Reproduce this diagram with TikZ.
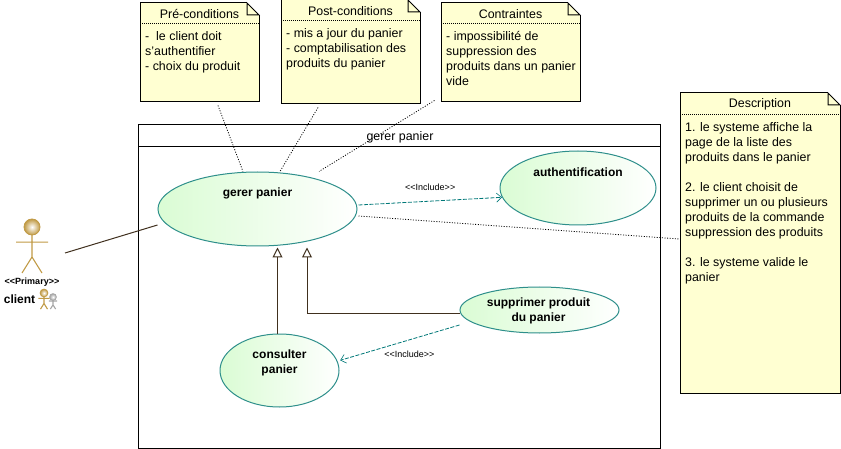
\documentclass[tikz,border=0pt]{standalone}
\usepackage{fontspec}
\setmainfont{Liberation Sans}
\usepackage{xcolor}
\usetikzlibrary{arrows.meta}
\usetikzlibrary{shapes.geometric}
\definecolor{notefill}{HTML}{FFFFD2}
\definecolor{caseline}{HTML}{2E8F8B}
\definecolor{casefill}{HTML}{DAFCD4}
\definecolor{inclcolor}{HTML}{007878}
\definecolor{genline}{HTML}{40301E}
\definecolor{actorhead}{HTML}{C09A45}
\newcommand\txt{\fontsize{12.4}{15}\selectfont}
\newcommand\boldtxt{\fontsize{12}{15}\selectfont\bfseries}
\newcommand\tinytxt{\fontsize{9}{11}\selectfont}
\tikzstyle{note}=[draw,line width=1pt,fill=notefill,inner sep=0pt]
\tikzstyle{notetxt}=[font=\txt,inner sep=0pt,align=left]
\tikzstyle{usecase}=[ellipse,draw=caseline,line width=1pt,left color=casefill,right color=white,inner sep=0pt]
\tikzstyle{caselabel}=[font=\boldtxt,align=center,inner sep=0pt]
\tikzstyle{anchorline}=[line width=.8pt,dash pattern=on 1pt off 1.6pt]
\tikzstyle{incl}=[line width=.8pt,draw=inclcolor,dash pattern=on 4pt off 1.5pt,-{Straight Barb[length=5pt,width=9pt,line width=.6pt]}]
\tikzstyle{gen}=[line width=1pt,draw=genline,-{Triangle[open,length=10pt,width=10pt,fill=white]}]
\tikzstyle{inclabel}=[font=\tinytxt,inner sep=0pt]
% note: name, x1, y1, x2, y2, header line, title, body
\newcommand\notebox[8]{%
	\node[note,minimum width=#4-#2,minimum height=#5-#3] (#1) at ({(#2+#4)/2},{(#3+#5)/2}) {};
	\fill[white] (#4-12,#3-1) -- (#4+1,#3-1) -- (#4+1,#3+12) -- (#4,#3+12) -- (#4-12,#3) -- cycle;
	\draw[line width=1pt] (#4-12,#3) -- (#4,#3+12) -- (#4-12,#3+12) -- cycle;
	\draw[line width=.8pt,dash pattern=on 1pt off 1pt] (#2,#6) -- (#4,#6);
	\node[font=\txt,inner sep=0pt] (#1-title) at ({(#2+#4)/2},{(#3+#6)/2+1}) {#7};
	\node[notetxt,anchor=north west] (#1-body) at (#2+5,#6+8) {#8};
}
% figure: x, y of head centre, scale, head radius, colour
\newcommand\stickman[5]{%
	\begin{scope}[shift={(#1,#2)},x=#3pt,y=-#3pt,line width=1.1pt,draw=#5]
		\draw (-2,1.9) -- (2,1.9) (0,1) -- (0,3.75) -- (-1.25,5.75) (0,3.75) -- (1.25,5.75);
		\shade[inner color=white,outer color=#5] (0,0) circle (#4);
		\draw[line width=.8pt] (0,0) circle (#4);
	\end{scope}
}
\begin{document}
\begin{tikzpicture}[x=1pt,y=-1pt]
	\useasboundingbox (0,0) rectangle (841,449);
	\node[draw,line width=1pt,minimum width=522,minimum height=323] (frame) at (399,286.5) {};
	\draw[line width=1pt] (138,147) -- (660,147);
	\node[font=\txt,inner sep=0pt] (frametitle) at (400,137) {gerer panier};
	% notes
	\notebox{pre}{140}{3}{259}{102}{23}{Pré-conditions}{-\ \ le client doit\\s'authentifier\\- choix du produit}
	\notebox{post}{281}{0}{420}{104}{20}{Post-conditions}{- mis a jour du panier\\- comptabilisation des\\produits du panier}
	\notebox{contr}{441}{3}{580}{102}{23}{Contraintes}{- impossibilité de\\suppression des\\produits dans un panier\\vide}
	\notebox{descr}{680}{93}{840}{393}{114}{Description}{1. le systeme affiche la\\page de la liste des\\produits dans le panier\\[15pt]2. le client choisit de\\supprimer un ou plusieurs\\produits de la commande\\suppression des produits\\[15pt]3. le systeme valide le\\panier}
	% use cases
	\node[usecase,minimum width=199,minimum height=74,label={[caselabel,yshift=16pt]center:gerer panier}] (gerer) at (257.5,209) {};
	\node[usecase,minimum width=156,minimum height=74,label={[caselabel,yshift=16pt]center:authentification}] (auth) at (578,188) {};
	\node[usecase,minimum width=119,minimum height=73,label={[caselabel,yshift=8pt]center:consulter\\panier}] (consu) at (279.5,370.5) {};
	\node[usecase,minimum width=159,minimum height=46,label={[caselabel,yshift=-1pt,xshift=-1pt]center:supprimer produit\\du panier}] (supp) at (539.5,310) {};
	% actor
	\stickman{32}{227}{8}{1}{actorhead}
	\stickman{53}{297}{2.1}{1.6}{black!35}
	\stickman{44}{293}{2.8}{1.4}{actorhead}
	\coordinate (actor) at (32,252);
	\node[font=\fontsize{9}{11}\selectfont\bfseries,inner sep=0pt] (prim) at (32,282) {<{}<Primary>{}>};
	\node[font=\boldtxt,inner sep=0pt] (client) at (19.5,299) {client};
	% connectors
	\draw[line width=1pt,draw=genline] ([xshift=33pt,yshift=-1pt]actor) -- ([yshift=-16pt]gerer.west);
	\draw[anchorline] ([xshift=18.5pt,yshift=-3pt]pre.south) -- ([xshift=-14.5pt]gerer.north);
	\draw[anchorline] ([xshift=-32.5pt,yshift=-3pt]post.south) -- ([xshift=22.5pt]gerer.north);
	\draw[anchorline] ([xshift=-6pt,yshift=2pt]contr.south west) -- ([xshift=61.5pt]gerer.north);
	\draw[anchorline] ([xshift=1pt,yshift=-7pt]gerer.east) -- ([yshift=4pt]descr.west);
	\draw[incl] ([xshift=1pt,yshift=4pt]gerer.east) --node[inclabel,pos=.5,above=10pt] (lab1) {<{}<Include>{}>} (auth.187);
	\draw[incl] ([yshift=-15pt]supp.west) --node[inclabel,pos=.42,below=11pt] (lab2) {<{}<Include>{}>} ([xshift=3pt]consu.10);
	\draw[gen] ([xshift=-2pt]consu.north) -- ([xshift=20pt,yshift=-1pt]gerer.south);
	\draw[gen] ([yshift=-3pt]supp.west) -| ([xshift=49.5pt,yshift=-1pt]gerer.south);
\end{tikzpicture}
\end{document}
